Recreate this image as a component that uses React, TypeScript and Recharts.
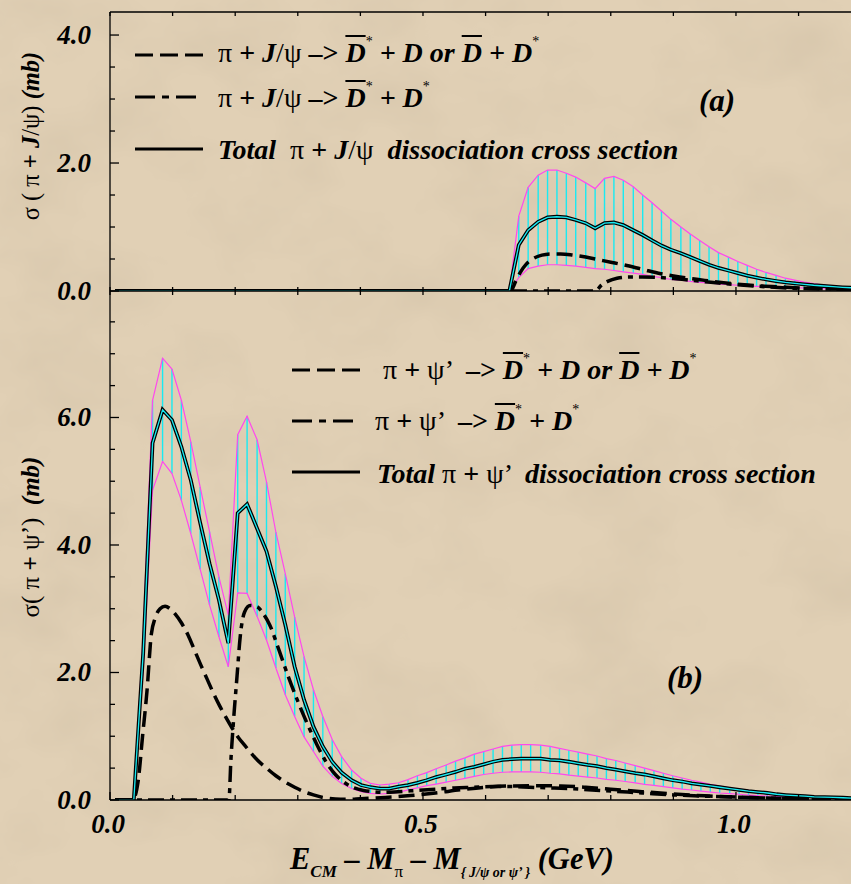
import React from 'react'
import { ComposedChart, Line, XAxis, YAxis, ErrorBar } from 'recharts'

// ---- panel (a): pi + J/psi ----
const gridA = [0.008, 0.638, 0.653, 0.668, 0.684, 0.699, 0.714, 0.729, 0.744, 0.760, 0.775, 0.790, 0.805, 0.820, 0.836, 0.851, 0.866, 0.881, 0.896, 0.912, 0.927, 0.942, 0.957, 0.972, 0.988, 1.003, 1.018, 1.033, 1.048, 1.064, 1.079, 1.094, 1.109, 1.124, 1.140, 1.155, 1.170, 1.185]
const upperA = [0, 0, 1.17, 1.62, 1.81, 1.89, 1.89, 1.84, 1.78, 1.69, 1.60, 1.76, 1.79, 1.73, 1.63, 1.50, 1.38, 1.25, 1.12, 1.00, 0.89, 0.79, 0.69, 0.60, 0.53, 0.46, 0.40, 0.34, 0.29, 0.245, 0.20, 0.17, 0.14, 0.115, 0.094, 0.078, 0.067, 0.058]
const totalA = [0, 0, 0.72, 0.95, 1.08, 1.15, 1.16, 1.15, 1.11, 1.06, 0.98, 1.06, 1.07, 1.03, 0.95, 0.875, 0.79, 0.71, 0.645, 0.59, 0.53, 0.47, 0.41, 0.36, 0.32, 0.28, 0.24, 0.21, 0.18, 0.156, 0.136, 0.12, 0.105, 0.09, 0.078, 0.067, 0.058, 0.05]
const lowerA = [0, 0, 0.21, 0.35, 0.39, 0.41, 0.41, 0.40, 0.39, 0.37, 0.35, 0.34, 0.32, 0.30, 0.28, 0.26, 0.23, 0.21, 0.18, 0.17, 0.15, 0.135, 0.125, 0.11, 0.10, 0.09, 0.08, 0.073, 0.067, 0.063, 0.058, 0.052, 0.047, 0.042, 0.036, 0.034, 0.031, 0.028]
const dashXA = [0.008, 0.64, 0.648, 0.656, 0.665, 0.675, 0.69, 0.705, 0.72, 0.74, 0.76, 0.78, 0.80, 0.82, 0.85, 0.88, 0.91, 0.94, 0.97, 1.0, 1.04, 1.08, 1.12, 1.16, 1.186]
const dashA = [0, 0, 0.15, 0.3, 0.42, 0.5, 0.56, 0.58, 0.58, 0.56, 0.53, 0.49, 0.45, 0.41, 0.34, 0.27, 0.22, 0.18, 0.14, 0.11, 0.08, 0.06, 0.04, 0.03, 0.025]
const dotXA = [0.008, 0.775, 0.785, 0.795, 0.81, 0.83, 0.85, 0.87, 0.90, 0.93, 0.96, 1.0, 1.05, 1.1, 1.15, 1.186]
const dotA = [0, 0, 0.09, 0.15, 0.2, 0.22, 0.22, 0.215, 0.195, 0.165, 0.135, 0.10, 0.065, 0.04, 0.03, 0.02]

// ---- panel (b): pi + psi' ----
const gridB = [0.008, 0.023, 0.038, 0.053, 0.068, 0.084, 0.099, 0.114, 0.129, 0.144, 0.159, 0.174, 0.189, 0.204, 0.219, 0.235, 0.250, 0.265, 0.280, 0.295, 0.310, 0.325, 0.340, 0.355, 0.370, 0.386, 0.401, 0.416, 0.431, 0.446, 0.461, 0.476, 0.491, 0.506, 0.521, 0.537, 0.552, 0.567, 0.582, 0.597, 0.612, 0.627, 0.642, 0.657, 0.672, 0.688, 0.703, 0.718, 0.733, 0.748, 0.763, 0.778, 0.793, 0.808, 0.823, 0.839, 0.854, 0.869, 0.884, 0.899, 0.914, 0.929, 0.944, 0.959, 0.974, 0.990, 1.005, 1.020, 1.035, 1.050, 1.065, 1.080, 1.095, 1.110, 1.125, 1.141, 1.156, 1.171, 1.186]
const upperB = [0, 0, 0, 2.59, 6.27, 6.93, 6.76, 6.27, 5.62, 4.91, 4.21, 3.50, 2.90, 5.73, 6.02, 5.65, 4.99, 4.20, 3.55, 2.87, 2.25, 1.73, 1.31, 0.95, 0.68, 0.47, 0.34, 0.26, 0.235, 0.25, 0.27, 0.32, 0.38, 0.43, 0.49, 0.55, 0.61, 0.66, 0.72, 0.76, 0.80, 0.84, 0.86, 0.87, 0.87, 0.86, 0.84, 0.81, 0.78, 0.75, 0.72, 0.69, 0.65, 0.62, 0.58, 0.54, 0.50, 0.46, 0.42, 0.38, 0.345, 0.31, 0.28, 0.245, 0.22, 0.19, 0.17, 0.15, 0.13, 0.115, 0.10, 0.083, 0.073, 0.063, 0.052, 0.047, 0.042, 0.036, 0.031]
const totalB = [0, 0, 0, 2.3, 5.6, 6.12, 5.96, 5.54, 5.02, 4.35, 3.71, 3.14, 2.46, 4.50, 4.64, 4.26, 3.90, 3.35, 2.75, 2.09, 1.57, 1.15, 0.84, 0.60, 0.43, 0.31, 0.235, 0.20, 0.18, 0.18, 0.21, 0.235, 0.27, 0.31, 0.36, 0.40, 0.44, 0.49, 0.52, 0.56, 0.60, 0.63, 0.64, 0.65, 0.65, 0.65, 0.63, 0.62, 0.60, 0.575, 0.55, 0.53, 0.50, 0.475, 0.45, 0.42, 0.40, 0.37, 0.34, 0.31, 0.29, 0.26, 0.24, 0.22, 0.20, 0.18, 0.16, 0.14, 0.125, 0.11, 0.09, 0.078, 0.068, 0.06, 0.05, 0.045, 0.04, 0.035, 0.03]
const lowerB = [0, 0, 0, 2.04, 4.86, 5.31, 5.12, 4.70, 4.18, 3.62, 3.06, 2.56, 2.09, 3.25, 3.24, 2.88, 2.51, 2.07, 1.65, 1.31, 0.99, 0.76, 0.53, 0.37, 0.26, 0.18, 0.13, 0.105, 0.094, 0.105, 0.12, 0.16, 0.19, 0.225, 0.25, 0.28, 0.31, 0.34, 0.37, 0.40, 0.42, 0.435, 0.44, 0.44, 0.44, 0.435, 0.42, 0.41, 0.39, 0.375, 0.36, 0.345, 0.325, 0.31, 0.29, 0.27, 0.245, 0.23, 0.21, 0.19, 0.17, 0.157, 0.14, 0.125, 0.11, 0.10, 0.09, 0.078, 0.068, 0.063, 0.057, 0.052, 0.047, 0.042, 0.042, 0.036, 0.036, 0.031, 0.026]
const dashXB = [0.008, 0.036, 0.045, 0.052, 0.059, 0.066, 0.072, 0.080, 0.088, 0.096, 0.104, 0.114, 0.125, 0.135, 0.145, 0.155, 0.165, 0.175, 0.185, 0.195, 0.205, 0.215, 0.225, 0.235, 0.25, 0.265, 0.28, 0.295, 0.31, 0.325, 0.34, 0.36, 0.38, 0.40, 0.44, 0.48, 0.52, 0.56, 0.60, 0.64, 0.68, 0.72, 0.76, 0.80, 0.85, 0.90, 0.95, 1.0, 1.05, 1.10, 1.15, 1.186]
const dashB = [0, 0, 0.3, 1.0, 1.7, 2.6, 2.85, 3.0, 3.04, 3.0, 2.92, 2.78, 2.58, 2.35, 2.12, 1.9, 1.68, 1.48, 1.3, 1.13, 0.98, 0.86, 0.74, 0.63, 0.5, 0.38, 0.28, 0.2, 0.13, 0.08, 0.04, 0.015, 0.01, 0.02, 0.04, 0.07, 0.11, 0.16, 0.2, 0.22, 0.225, 0.22, 0.2, 0.17, 0.13, 0.095, 0.065, 0.045, 0.03, 0.02, 0.012, 0.01]
const dotXB = [0.008, 0.190, 0.193, 0.197, 0.203, 0.208, 0.215, 0.224, 0.235, 0.245, 0.255, 0.27, 0.285, 0.30, 0.315, 0.33, 0.345, 0.36, 0.375, 0.39, 0.405, 0.42, 0.44, 0.46, 0.49, 0.52, 0.55, 0.58, 0.61, 0.64, 0.67, 0.70, 0.75, 0.80, 0.85, 0.90, 0.95, 1.0, 1.05, 1.10, 1.15, 1.186]
const dotB = [0, 0, 0.6, 1.2, 1.95, 2.56, 2.95, 3.05, 3.03, 2.92, 2.75, 2.35, 1.93, 1.55, 1.2, 0.88, 0.6, 0.4, 0.27, 0.19, 0.15, 0.13, 0.12, 0.13, 0.15, 0.17, 0.19, 0.2, 0.21, 0.21, 0.2, 0.19, 0.17, 0.14, 0.11, 0.08, 0.06, 0.045, 0.03, 0.02, 0.015, 0.01]

// ---- axes ----
const X_MAX = 1.186
const X_TICKS = [0, 0.1, 0.2, 0.3, 0.4, 0.5, 0.6, 0.7, 0.8, 0.9, 1.0, 1.1]
const X_MAJOR = [0, 0.5, 1.0]
const Y_TICKS_A = [0, 0.5, 1, 1.5, 2, 2.5, 3, 3.5, 4]
const Y_TICKS_B = [0, 0.5, 1, 1.5, 2, 2.5, 3, 3.5, 4, 4.5, 5, 5.5, 6, 6.5, 7, 7.5]
const Y_MAJOR = [0, 2, 4, 6]

const SERIF = "'Liberation Serif', 'Times New Roman', serif"
const MAGENTA = '#ff48ee'
const CYAN = '#18eaf2'
const DASH = '16 7'
const DASH_DOT = '16 6 5 6'

const bandRows = (xs: number[], lo: number[], tot: number[], up: number[]) =>
  xs.map((x, i) => ({ x, lower: lo[i], total: tot[i], upper: up[i], spread: [0, up[i] - lo[i]] }))
const curveRows = (xs: number[], ys: number[]) => xs.map((x, i) => ({ x, y: ys[i] }))

const rowsA = bandRows(gridA, lowerA, totalA, upperA)
const rowsB = bandRows(gridB, lowerB, totalB, upperB)

const near = (v: number, list: number[]) => list.some((m) => Math.abs(v - m) < 1e-6)
const axisLine = { stroke: '#000', strokeWidth: 1.3 }
const tickText: React.CSSProperties = { fontFamily: SERIF, fontWeight: 700, fontStyle: 'italic', fontSize: 27, fill: '#000' }

const leftTick = (p: any) => {
  const v = p.payload.value
  const major = near(v, Y_MAJOR)
  return (
    <g>
      <line x1={p.x} x2={p.x + (major ? 9 : 5)} y1={p.y} y2={p.y} stroke="#000" strokeWidth={1.3} />
      {major && (
        <text x={p.x - 19} y={p.y} textAnchor="end" dominantBaseline="central" style={tickText}>
          {v.toFixed(1)}
        </text>
      )}
    </g>
  )
}

const bottomTick = (p: any) => {
  const v = p.payload.value
  const major = near(v, X_MAJOR)
  return (
    <g>
      <line x1={p.x} x2={p.x} y1={p.y} y2={p.y - (major ? 8 : 5)} stroke="#000" strokeWidth={1.3} />
      {major && (
        <text x={p.x - 2} y={p.y + 24} textAnchor="middle" dominantBaseline="central" style={tickText}>
          {v.toFixed(1)}
        </text>
      )}
    </g>
  )
}

const midTick = (p: any) => (
  <line x1={p.x} x2={p.x} y1={p.y - 4} y2={p.y + 4} stroke="#000" strokeWidth={1.3} />
)

const topTick = (p: any) => (
  <line x1={p.x} x2={p.x} y1={p.y} y2={p.y + 4} stroke="#000" strokeWidth={1.3} />
)

function panelSeries(rows: any[], dash: any[], dot: any[]) {
  return [
    <Line key="lo" data={rows} dataKey="lower" type="linear" stroke={MAGENTA} strokeWidth={1.2} dot={false} isAnimationActive={false}>
      <ErrorBar dataKey="spread" direction="y" width={0} stroke={CYAN} strokeWidth={1.4} />
    </Line>,
    <Line key="up" data={rows} dataKey="upper" type="linear" stroke={MAGENTA} strokeWidth={1.2} dot={false} isAnimationActive={false} />,
    <Line key="da" data={dash} dataKey="y" type="monotone" stroke="#000" strokeWidth={3.5} strokeDasharray={DASH} dot={false} isAnimationActive={false} />,
    <Line key="dd" data={dot} dataKey="y" type="monotone" stroke="#000" strokeWidth={3.5} strokeDasharray={DASH_DOT} dot={false} isAnimationActive={false} />,
    <Line key="tb" data={rows} dataKey="total" type="linear" stroke="#000" strokeWidth={3.8} dot={false} isAnimationActive={false} />,
    <Line key="tc" data={rows} dataKey={(r: any) => r.total} type="linear" stroke={CYAN} strokeWidth={1.3} dot={false} isAnimationActive={false} />,
  ]
}

// ---- text helpers ----
const BI: React.CSSProperties = { fontWeight: 700, fontStyle: 'italic' }
const RG: React.CSSProperties = { fontWeight: 400, fontStyle: 'normal' }
const BD: React.CSSProperties = { fontWeight: 700, fontStyle: 'normal' }

function Txt({ x, base, fs, children }: { x: number; base: number; fs: number; children: React.ReactNode }) {
  return (
    <div
      style={{
        position: 'absolute', left: x, top: base - 0.8375 * fs, fontSize: fs, lineHeight: `${fs}px`,
        fontFamily: SERIF, whiteSpace: 'pre', color: '#000',
      }}
    >
      {children}
    </div>
  )
}

const Dbar = () => (
  <span style={{ ...BI, textDecoration: 'overline', textDecorationThickness: '2px' }}>D</span>
)
const Star = () => (
  <span style={{ ...RG, fontSize: '0.5em', position: 'relative', top: '-1.1em' }}>*</span>
)
const Sub = ({ fs, style, children }: { fs: number; style: React.CSSProperties; children: React.ReactNode }) => (
  <span style={{ ...style, fontSize: fs, position: 'relative', top: 8 }}>{children}</span>
)

function Rotated({ cx, cy, fs, children }: { cx: number; cy: number; fs: number; children: React.ReactNode }) {
  return (
    <div
      style={{
        position: 'absolute', left: cx, top: cy, transform: 'translate(-50%, -50%) rotate(-90deg)',
        fontSize: fs, lineHeight: `${fs + 4}px`, fontFamily: SERIF, whiteSpace: 'pre', color: '#000',
      }}
    >
      {children}
    </div>
  )
}

function LegendKeys() {
  const s = { stroke: '#000', strokeWidth: 3 }
  return (
    <svg width={851} height={884} style={{ position: 'absolute', left: 0, top: 0 }}>
      <line x1={135} x2={203} y1={55} y2={55} {...s} strokeDasharray="18 7" />
      <line x1={135} x2={199} y1={97} y2={97} {...s} strokeDasharray="20 7 7 7" />
      <line x1={135} x2={203} y1={149} y2={149} {...s} />
      <line x1={292} x2={360} y1={370} y2={370} {...s} strokeDasharray="18 7" />
      <line x1={292} x2={355} y1={421} y2={421} {...s} strokeDasharray="20 7 7 7" />
      <line x1={292} x2={360} y1={472} y2={472} {...s} />
    </svg>
  )
}

function Paper() {
  return (
    <svg width={851} height={884} style={{ position: 'absolute', left: 0, top: 0 }}>
      <defs>
        <filter id="paper" x="0" y="0" width="100%" height="100%">
          <feTurbulence type="fractalNoise" baseFrequency="0.009 0.012" numOctaves={4} seed={7} />
          <feColorMatrix type="matrix" values="0 0 0 0 0.60  0 0 0 0 0.50  0 0 0 0 0.36  0.8 0 0 0 -0.33" />
        </filter>
      </defs>
      <rect width={851} height={884} fill="#e1d0b5" />
      <rect width={851} height={884} fill="#000" filter="url(#paper)" />
    </svg>
  )
}

export default function App() {
  const fs = 28
  return (
    <div style={{ position: 'absolute', left: 0, top: 0, width: 851, height: 884, overflow: 'hidden' }}>
      <Paper />

      {/* (a) pi + J/psi */}
      <div style={{ position: 'absolute', left: 0, top: 0 }}>
        <ComposedChart width={880} height={310} data={rowsA} margin={{ top: 11, right: 27.6, bottom: 0, left: 0 }}>
          <XAxis dataKey="x" type="number" domain={[0, X_MAX]} allowDataOverflow ticks={X_TICKS} interval={0}
            height={19} tickSize={0} tickMargin={0} tickLine={false} tick={midTick} axisLine={axisLine} />
          <XAxis xAxisId="top" orientation="top" dataKey="x" type="number" domain={[0, X_MAX]} allowDataOverflow
            ticks={X_TICKS} interval={0} height={1} tickSize={0} tickMargin={0} tickLine={false} tick={topTick} axisLine={axisLine} />
          <YAxis type="number" domain={[0, 4.36]} allowDataOverflow ticks={Y_TICKS_A} interval={0} width={110}
            tickSize={0} tickMargin={0} tickLine={false} tick={leftTick} axisLine={axisLine} />
          {panelSeries(rowsA, curveRows(dashXA, dashA), curveRows(dotXA, dotA))}
        </ComposedChart>
      </div>

      {/* (b) pi + psi' */}
      <div style={{ position: 'absolute', left: 0, top: 280 }}>
        <ComposedChart width={880} height={580} data={rowsB} margin={{ top: 11, right: 27.6, bottom: 0, left: 0 }}>
          <XAxis dataKey="x" type="number" domain={[0, X_MAX]} allowDataOverflow ticks={X_TICKS} interval={0}
            height={60} tickSize={0} tickMargin={0} tickLine={false} tick={bottomTick} axisLine={axisLine} />
          <YAxis type="number" domain={[0, 7.984]} allowDataOverflow ticks={Y_TICKS_B} interval={0} width={110}
            tickSize={0} tickMargin={0} tickLine={false} tick={leftTick} axisLine={axisLine} />
          {panelSeries(rowsB, curveRows(dashXB, dashB), curveRows(dotXB, dotB))}
        </ComposedChart>
      </div>

      <LegendKeys />

      {/* legend (a) */}
      <Txt x={218} base={62} fs={fs}>
        <span style={RG}>π </span><span style={BD}>+ </span><span style={BI}>J</span><span style={RG}>/ψ </span>
        <span style={BD}>–&gt; </span><Dbar /><Star /><span style={BI}> + D or </span><Dbar /><span style={BI}> + D</span><Star />
      </Txt>
      <Txt x={218} base={107} fs={fs}>
        <span style={RG}>π </span><span style={BD}>+ </span><span style={BI}>J</span><span style={RG}>/ψ </span>
        <span style={BD}>–&gt; </span><Dbar /><Star /><span style={BI}> + D</span><Star />
      </Txt>
      <Txt x={218} base={159} fs={fs}>
        <span style={BI}>Total  </span><span style={RG}>π </span><span style={BD}>+ </span><span style={BI}>J</span>
        <span style={RG}>/ψ  </span><span style={BI}>dissociation cross section</span>
      </Txt>
      <Txt x={699} base={111} fs={31}><span style={BI}>(a)</span></Txt>

      {/* legend (b) */}
      <Txt x={383} base={379} fs={fs}>
        <span style={RG}>π </span><span style={BD}>+ </span><span style={RG}>ψ’  </span>
        <span style={BD}>–&gt; </span><Dbar /><Star /><span style={BI}> + D or </span><Dbar /><span style={BI}> + D</span><Star />
      </Txt>
      <Txt x={375} base={430} fs={fs}>
        <span style={RG}>π </span><span style={BD}>+ </span><span style={RG}>ψ’  </span>
        <span style={BD}>–&gt; </span><Dbar /><Star /><span style={BI}> + D</span><Star />
      </Txt>
      <Txt x={377} base={483} fs={fs}>
        <span style={BI}>Total </span><span style={RG}>π </span><span style={BD}>+ </span><span style={RG}>ψ’  </span>
        <span style={BI}>dissociation cross section</span>
      </Txt>
      <Txt x={667} base={688} fs={31}><span style={BI}>(b)</span></Txt>

      {/* axis titles */}
      <Rotated cx={31} cy={136} fs={24.5}>
        <span style={RG}>σ ( π </span><span style={BD}>+ </span><span style={BI}>J</span><span style={RG}>/ψ) </span>
        <span style={BI}>(mb)</span>
      </Rotated>
      <Rotated cx={30} cy={537} fs={25}>
        <span style={RG}>σ( π </span><span style={BD}>+ </span><span style={RG}>ψ’)  </span><span style={BI}>(mb)</span>
      </Rotated>
      <Txt x={290} base={870} fs={30.5}>
        <span style={BI}>E</span><Sub fs={17} style={BI}>CM</Sub><span style={BI}> – M</span><Sub fs={17} style={RG}>π</Sub>
        <span style={BI}> – M</span><Sub fs={14} style={BI}>{'{ J/ψ or ψ’ }'}</Sub><span style={BI}> (GeV)</span>
      </Txt>
    </div>
  )
}
